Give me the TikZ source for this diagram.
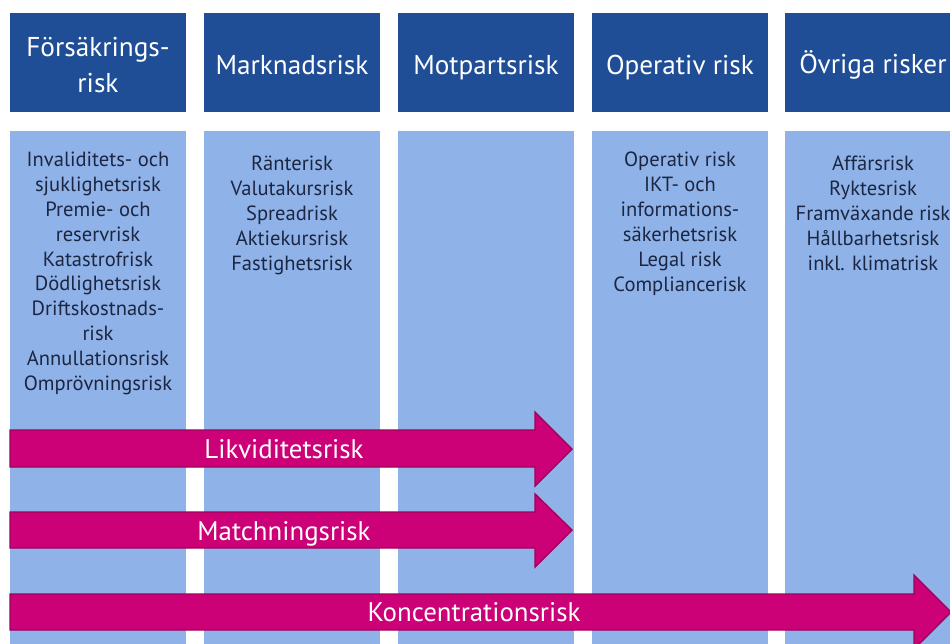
\documentclass[tikz,border=0pt]{standalone}
\usepackage{fontspec}
\setmainfont{PT Sans}
\usetikzlibrary{positioning}

\definecolor{headblue}{RGB}{31,78,151}
\definecolor{colblue}{RGB}{143,179,232}
\definecolor{riskpink}{RGB}{204,0,119}
\definecolor{riskedge}{RGB}{160,0,90}
\definecolor{listtext}{RGB}{28,38,66}

\newcommand{\hdstrut}{\rule[-0.15em]{0pt}{1.2em}}

\begin{document}
\begin{tikzpicture}[
	x=0.02cm, y=-0.02cm,
	node distance=0.36cm and 0.36cm
	]
\tikzset{
	header/.style = { rectangle, fill=headblue, text=white, align=center, minimum width=3.52cm, minimum height=1.98cm, inner sep=0pt, font=\fontsize{15.5}{18.2}\selectfont },
	column/.style = { rectangle, fill=colblue, minimum width=3.52cm, minimum height=10.6cm, inner sep=0pt },
	listing/.style = { anchor=north, align=center, text=listtext, inner sep=0pt, font=\fontsize{11.7}{14.2}\selectfont },
	riskarrow/.style = { fill=riskpink, draw=riskedge, line width=0.8pt },
	risklabel/.style = { text=white, inner sep=0pt, text height=0.8em, text depth=0.08em, font=\fontsize{15.3}{18}\selectfont }
}
	\useasboundingbox (0,0) rectangle (950,643);
	\clip (0,0) rectangle (950,643);

	% headers
	\node (hForsakring) [header] at (98,62.5) {\hdstrut Försäkrings-\\\hdstrut risk};
	\node (hMarknad) [header] at (292,62.5) {\hdstrut Marknadsrisk};
	\node (hMotpart) [header] at (486,62.5) {\hdstrut Motpartsrisk};
	\node (hOperativ) [header] at (680,62.5) {\hdstrut Operativ risk};
	\node (hOvriga) [header] at (873,62.5) {\hdstrut Övriga risker};

	% columns
	\node (cForsakring) [column, below=of hForsakring] {};
	\node (cMarknad) [column, below=of hMarknad] {};
	\node (cMotpart) [column, below=of hMotpart] {};
	\node (cOperativ) [column, below=of hOperativ] {};
	\node (cOvriga) [column, below=of hOvriga] {};

	% risk lists
	\node (lForsakring) [listing] at ([yshift=-0.42cm]cForsakring.north) {Invaliditets- och\\sjuklighetsrisk\\Premie- och\\reservrisk\\Katastrofrisk\\Dödlighetsrisk\\Driftskostnads-\\risk\\Annullationsrisk\\Omprövningsrisk};
	\node (lMarknad) [listing] at ([yshift=-0.5cm]cMarknad.north) {Ränterisk\\Valutakursrisk\\Spreadrisk\\Aktiekursrisk\\Fastighetsrisk};
	\node (lOperativ) [listing] at ([yshift=-0.42cm]cOperativ.north) {Operativ risk\\IKT- och\\informations-\\säkerhetsrisk\\Legal risk\\Compliancerisk};
	\node (lOvriga) [listing] at ([yshift=-0.5cm]cOvriga.north) {Affärsrisk\\Ryktesrisk\\Framväxande risk\\Hållbarhetsrisk\\inkl. klimatrisk};

	% cross-cutting risks
	\draw [riskarrow] (10,430) -- (535,430) -- (535,412) -- (572,449) -- (535,486) -- (535,467) -- (10,467) -- cycle;
	\node (aLikviditet) [risklabel] at (284,452) {Likviditetsrisk};

	\draw [riskarrow] (10,512) -- (535,512) -- (535,494) -- (572,530) -- (535,567) -- (535,548) -- (10,548) -- cycle;
	\node (aMatchning) [risklabel] at (284,534) {Matchningsrisk};

	\draw [riskarrow] (10,594) -- (914,594) -- (914,575) -- (951,612) -- (914,649) -- (914,630) -- (10,630) -- cycle;
	\node (aKoncentration) [risklabel] at (474,615) {Koncentrationsrisk};

\end{tikzpicture}
\end{document}
